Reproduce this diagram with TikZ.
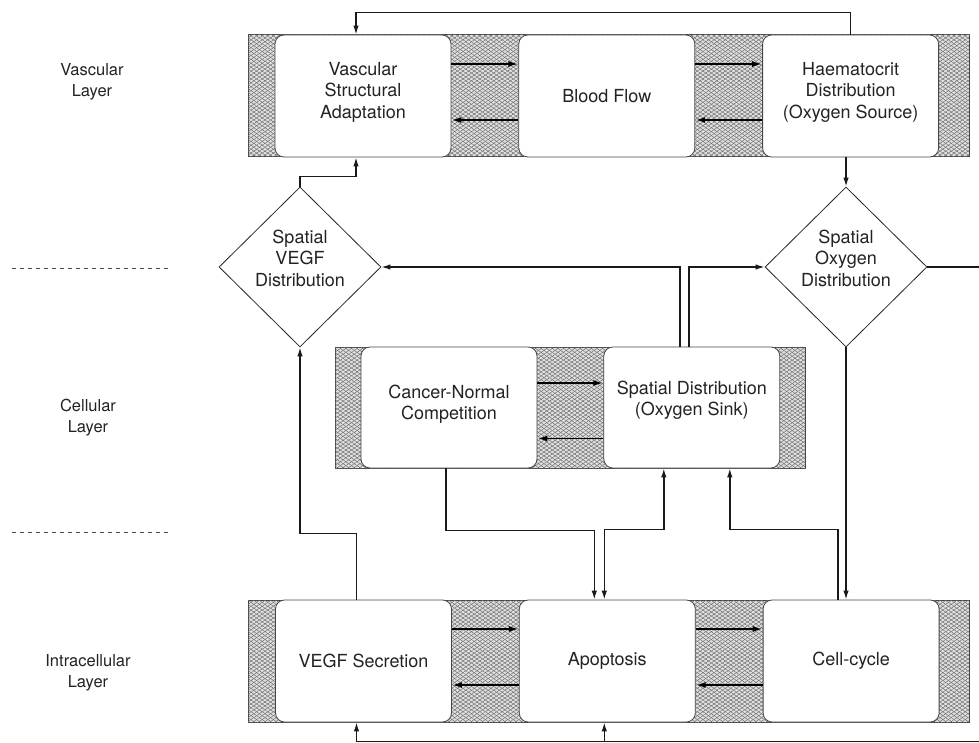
\documentclass[tikz,border=0pt]{standalone}
\usepackage{fontspec}
\setmainfont{TeX Gyre Heros}
\usepackage{tikz}
\usetikzlibrary{shapes.geometric, arrows.meta, positioning, patterns.meta}
\definecolor{meshgray}{RGB}{105, 105, 105}
\definecolor{edgegray}{RGB}{70, 70, 70}
\definecolor{textgray}{RGB}{35, 35, 35}

\begin{document}
\begin{tikzpicture}[
        x=1pt, y=-1pt,
        band/.style={rectangle, draw=edgegray, line width=1pt, fill=black!12, inner sep=0,
            postaction={pattern={Lines[angle=35, distance=3.2pt, line width=0.45pt]}, pattern color=meshgray},
            postaction={pattern={Lines[angle=-35, distance=3.2pt, line width=0.45pt]}, pattern color=meshgray}},
        procbox/.style={rectangle, rounded corners=9pt, draw=edgegray, line width=0.8pt, fill=white, minimum width=176pt, minimum height=122pt, inner sep=0, align=center, font=\fontsize{18}{21.5}\selectfont, text=textgray},
        decision/.style={diamond, draw=black!85, line width=0.8pt, fill=white, minimum width=162pt, minimum height=160pt, inner sep=0},
        fieldtext/.style={align=center, font=\fontsize{18}{21.5}\selectfont, text=textgray, yshift=9pt},
        laylabel/.style={align=center, font=\fontsize{16.5}{21}\selectfont, text=textgray},
        layerdiv/.style={draw=black!70, line width=0.7pt, dash pattern=on 4pt off 4pt},
        flow/.style={line width=1.9pt, -{Latex[length=10pt, width=6pt]}},
        link/.style={line width=1.4pt, draw=black!90},
        linkarrow/.style={link, -{Latex[length=9pt, width=5.5pt]}}
    ]
    \useasboundingbox (0,0) rectangle (979,743);

    % Layer names
    \node[laylabel] (vaslabel) at (92,82) {Vascular\\Layer};
    \node[laylabel] (celllabel) at (88,418) {Cellular\\Layer};
    \node[laylabel] (intralabel) at (88,673) {Intracellular\\Layer};
    \draw[layerdiv] (12,268) -- (168,268);
    \draw[layerdiv] (12,532) -- (168,532);

    % Vascular layer
    \node[band, minimum width=721pt, minimum height=122pt] (vasband) at (608.5,96) {};
    \node[procbox, text depth=12pt] (vsa) at (363,96) {Vascular\\Structural\\Adaptation};
    \node[procbox, right=67pt of vsa] (flow) {Blood Flow};
    \node[procbox, text depth=12pt, right=67pt of flow] (haem) {Haematocrit\\Distribution\\(Oxygen Source)};

    % Cellular layer
    \node[band, minimum width=470pt, minimum height=121pt] (cellband) at (570,407.5) {};
    \node[procbox, minimum height=121pt, text depth=10pt] (comp) at (449,407.5) {Cancer-Normal\\Competition};
    \node[procbox, minimum height=121pt, text depth=18pt, right=66pt of comp] (sink) {Spatial Distribution\\(Oxygen Sink)};

    % Intracellular layer
    \node[band, minimum width=721pt, minimum height=122pt] (intraband) at (608.5,661) {};
    \node[procbox] (vegfs) at (363.5,661) {VEGF Secretion};
    \node[procbox, right=67pt of vegfs] (apop) {Apoptosis};
    \node[procbox, right=67pt of apop] (cycle) {Cell-cycle};

    % Spatial fields
    \node[decision, label={[fieldtext]center:Spatial\\VEGF\\Distribution}] (vegfd) at (300,267) {};
    \node[decision, label={[fieldtext]center:Spatial\\Oxygen\\Distribution}] (oxyd) at (846,267) {};

    % Arrows inside the bands
    \foreach \a/\b in {vsa/flow, flow/haem, vegfs/apop, apop/cycle} {
        \draw[flow] ([yshift=32pt]\a.east) -- ([yshift=32pt]\b.west);
        \draw[flow] ([yshift=-24pt]\b.west) -- ([yshift=-24pt]\a.east);
    }
    \draw[flow] ([yshift=24.5pt]comp.east) -- ([yshift=24.5pt]sink.west);
    \draw[flow] ([yshift=-31pt]sink.west) -- ([yshift=-31pt]comp.east);

    % Connectors between layers
    \coordinate (oxyout) at (979,267);
    \coordinate (loopin) at (979,741.5);
    \draw[linkarrow] (haem.north) -- ++(0,-22) -| ([xshift=-7pt]vsa.north);
    \draw[linkarrow] (vegfd.north) -- ++(0,-10) -| ([xshift=-7pt]vsa.south);
    \draw[linkarrow] (oxyd.north |- haem.south) -- (oxyd.north);
    \draw[linkarrow] ([xshift=-12pt]sink.north) |- (vegfd.east);
    \draw[linkarrow] ([xshift=-3pt]sink.north) |- (oxyd.west);
    \draw[link] (oxyd.east) -- (oxyout);
    \draw[linkarrow] (oxyd.south) -- (oxyd.south |- cycle.north);
    \draw[linkarrow] ([xshift=-13pt]cycle.north) -- ++(0,-70) -| ([xshift=38pt]sink.south);
    \draw[linkarrow] ([xshift=-3pt]comp.south) -- ++(0,62) -| ([xshift=-13pt]apop.north);
    \draw[link, {Latex[length=9pt, width=5.5pt]}-{Latex[length=9pt, width=5.5pt]}]
        ([xshift=-3pt]apop.north) -- ++(0,-70) -| ([xshift=-28pt]sink.south);
    \draw[linkarrow] ([xshift=-7pt]vegfs.north) -- ++(0,-66) -| (vegfd.south);
    \draw[linkarrow] (loopin) -| ([xshift=-7pt]vegfs.south);
    \draw[linkarrow] ([xshift=-3pt]apop.south |- loopin) -- ([xshift=-3pt]apop.south);
\end{tikzpicture}
\end{document}
